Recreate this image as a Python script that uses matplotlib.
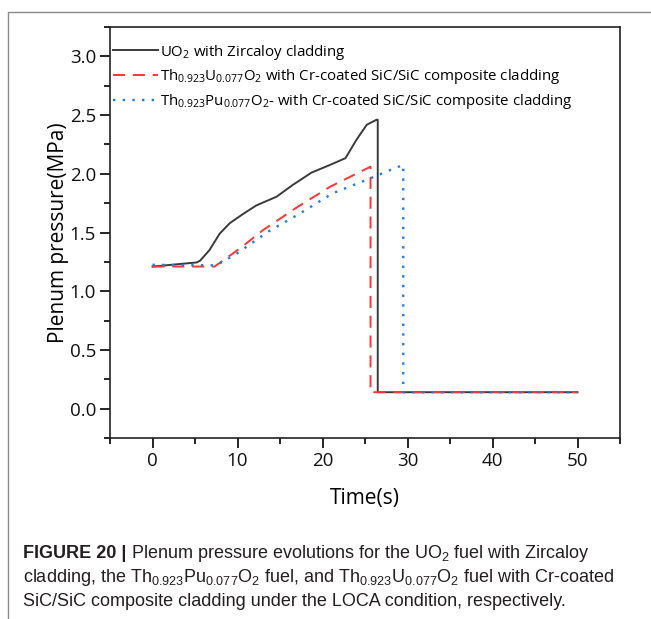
import matplotlib
matplotlib.use("Agg")
import matplotlib.pyplot as plt
from matplotlib.lines import Line2D

plt.rcParams['mathtext.default'] = 'regular'

# ---------------- data ----------------
t_uo2 = [0, 5.2, 5.6, 6.7, 7.9, 9.1, 10.7, 12.2, 14.6, 16.5, 18.7, 20.9, 22.7, 24.0, 25.2, 26.35, 26.5, 26.5, 50]
p_uo2 = [1.21, 1.245, 1.26, 1.35, 1.49, 1.58, 1.66, 1.73, 1.805, 1.905, 2.01, 2.076, 2.133, 2.29, 2.417, 2.46, 2.46, 0.14, 0.14]

t_thu = [0, 7.3, 10.3, 13.0, 16.9, 20.9, 24.8, 25.65, 25.65, 50]
p_thu = [1.21, 1.21, 1.365, 1.52, 1.71, 1.89, 2.03, 2.06, 0.14, 0.14]

t_thpu = [0, 7.5, 9.9, 13.6, 17.3, 21.2, 25.6, 27.9, 29.5, 29.5, 50]
p_thpu = [1.225, 1.22, 1.32, 1.507, 1.66, 1.834, 1.96, 2.03, 2.076, 0.14, 0.14]

labels = [r"UO$_2$ with Zircaloy cladding",
          r"Th$_{0.923}$U$_{0.077}$O$_2$ with Cr-coated SiC/SiC composite cladding",
          r"Th$_{0.923}$Pu$_{0.077}$O$_2$- with Cr-coated SiC/SiC composite cladding"]

xticks = [0, 10, 20, 30, 40, 50]
yticks = [0.0, 0.5, 1.0, 1.5, 2.0, 2.5, 3.0]

caption = [
    [("FIGURE 20 | ", "bold"), ("Plenum pressure evolutions for the UO$_2$ fuel with Zircaloy", "normal")],
    [("cladding, the Th$_{0.923}$Pu$_{0.077}$O$_2$ fuel, and Th$_{0.923}$U$_{0.077}$O$_2$ fuel with Cr-coated", "normal")],
    [("SiC/SiC composite cladding under the LOCA condition, respectively.", "normal")],
]

# ---------------- figure ----------------
W, H = 651, 619
fig = plt.figure(figsize=(W / 100, H / 100), dpi=100)
ax = fig.add_axes([110 / W, 1 - 438 / H, 510 / W, 411 / H])

cfont = "Open Sans"
ax.plot(t_uo2, p_uo2, color='#3a3a3a', lw=1.4, label=labels[0])
ax.plot(t_thu, p_thu, color='#ff3535', lw=1.4, dashes=(6.2, 4.0), label=labels[1])
ax.plot(t_thpu, p_thpu, color='#1f7be0', lw=1.7, dashes=(1.0, 3.1), label=labels[2])

ax.set_xlim(-5, 55)
ax.set_ylim(-0.25, 3.25)
ax.set_xticks(xticks)
ax.set_yticks(yticks)
ax.set_xticks([-5, 5, 15, 25, 35, 45, 55], minor=True)
ax.set_yticks([-0.25, 0.25, 0.75, 1.25, 1.75, 2.25, 2.75, 3.25], minor=True)
ax.set_yticklabels([f"{v:.1f}" for v in yticks])
ax.tick_params(which='major', direction='out', length=7, width=1.2, labelsize=13.5, pad=3)
ax.tick_params(which='minor', direction='out', length=4, width=1.2)
ax.tick_params(top=False, right=False, which='both')
for lab in ax.get_xticklabels() + ax.get_yticklabels():
    lab.set_fontfamily(cfont)
    lab.set_color('#111111')
for s in ax.spines.values():
    s.set_linewidth(1.2)
    s.set_color('#222222')

ax.set_xlabel("Time(s)", fontfamily=cfont, fontsize=15, labelpad=13)
ax.set_ylabel("Plenum pressure(MPa)", fontfamily=cfont, fontsize=15, labelpad=0.5)

leg = ax.legend(loc='upper left', bbox_to_anchor=(0.005, 0.962), frameon=False,
                prop={'family': cfont, 'size': 10.8}, handlelength=3.0, handletextpad=0.15,
                labelspacing=0.38, borderpad=0, borderaxespad=0)

# outer frame
fig.add_artist(Line2D([8 / W, 8 / W, 1.0], [0.0, 1 - 12 / H, 1 - 12 / H],
                      transform=fig.transFigure, color='#8a8a8a', lw=1.0))

# caption
fig.canvas.draw()
r = fig.canvas.get_renderer()
baselines = [557.5, 582, 606.5]
for line, yb in zip(caption, baselines):
    x = 22.5
    for txt, wt in line:
        t = fig.text(x / W, 1 - yb / H, txt, fontfamily="Liberation Sans", fontsize=13.0,
                     fontweight=wt, color='#231f20', va='baseline', ha='left')
        bb = t.get_window_extent(renderer=r)
        x += bb.width

fig.savefig("out.png", dpi=100)
